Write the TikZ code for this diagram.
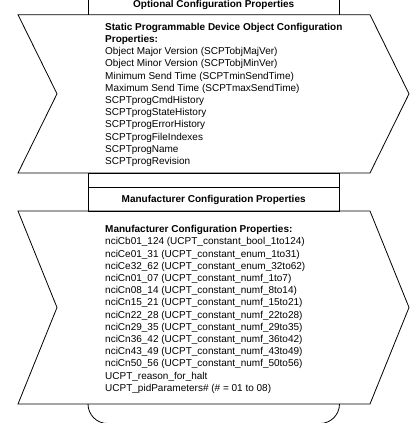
\documentclass[tikz,border=0pt]{standalone}
\usepackage{fontspec}
\setmainfont{Liberation Sans}
\usetikzlibrary{positioning}

\begin{document}
\begin{tikzpicture}[
  x=1pt,y=-1pt,
  outline/.style={draw=black,line width=0.8pt,line join=miter},
  heading/.style={font=\fontsize{10}{12}\selectfont\bfseries,inner sep=0pt,anchor=base},
  props/.style={font=\fontsize{10}{12.2}\selectfont,align=left,inner sep=0pt,anchor=north west}
]
  \useasboundingbox (0,0) rectangle (413,423);
  \clip (0,0) rectangle (413,423);

  % upper block
  \draw[outline] (88,-2) -- (88,14.7);
  \draw[outline] (339.5,-2) -- (339.5,14.7);
  \node[heading] (optTitle) at (213.7,7.5) {Optional Configuration Properties};
  \draw[outline] (18,14.7) -- (370,14.7) -- (409,93.8) -- (370,173) -- (18,173) -- (57,93.8) -- cycle;
  \node[props] (spdoProps) at (105,22.9) {%
    \textbf{Static Programmable Device Object Configuration}\\
    \textbf{Properties:}\\
    Object Major Version (SCPTobjMajVer)\\
    Object Minor Version (SCPTobjMinVer)\\
    Minimum Send Time (SCPTminSendTime)\\
    Maximum Send Time (SCPTmaxSendTime)\\
    SCPTprogCmdHistory\\
    SCPTprogStateHistory\\
    SCPTprogErrorHistory\\
    SCPTprogFileIndexes\\
    SCPTprogName\\
    SCPTprogRevision};

  % lower block
  \draw[outline] (88,173) rectangle (339.5,211);
  \draw[outline] (88,187.3) -- (339.5,187.3);
  \node[heading] (mfgTitle) at (213.7,202.5) {Manufacturer Configuration Properties};
  \draw[outline] (18,211) -- (370,211) -- (409,307.5) -- (370,404) -- (18,404) -- (57,307.5) -- cycle;
  \node[props] (mfgProps) at (105,225.2) {%
    \textbf{Manufacturer Configuration Properties:}\\
    nciCb01\_124 (UCPT\_constant\_bool\_1to124)\\
    nciCe01\_31 (UCPT\_constant\_enum\_1to31)\\
    nciCe32\_62 (UCPT\_constant\_enum\_32to62)\\
    nciCn01\_07 (UCPT\_constant\_numf\_1to7)\\
    nciCn08\_14 (UCPT\_constant\_numf\_8to14)\\
    nciCn15\_21 (UCPT\_constant\_numf\_15to21)\\
    nciCn22\_28 (UCPT\_constant\_numf\_22to28)\\
    nciCn29\_35 (UCPT\_constant\_numf\_29to35)\\
    nciCn36\_42 (UCPT\_constant\_numf\_36to42)\\
    nciCn43\_49 (UCPT\_constant\_numf\_43to49)\\
    nciCn50\_56 (UCPT\_constant\_numf\_50to56)\\
    UCPT\_reason\_for\_halt\\
    UCPT\_pidParameters\# (\# = 01 to 08)};
  \draw[outline,rounded corners=19.5pt] (88,404) -- (88,423.5) -- (339.5,423.5) -- (339.5,404);
\end{tikzpicture}
\end{document}
